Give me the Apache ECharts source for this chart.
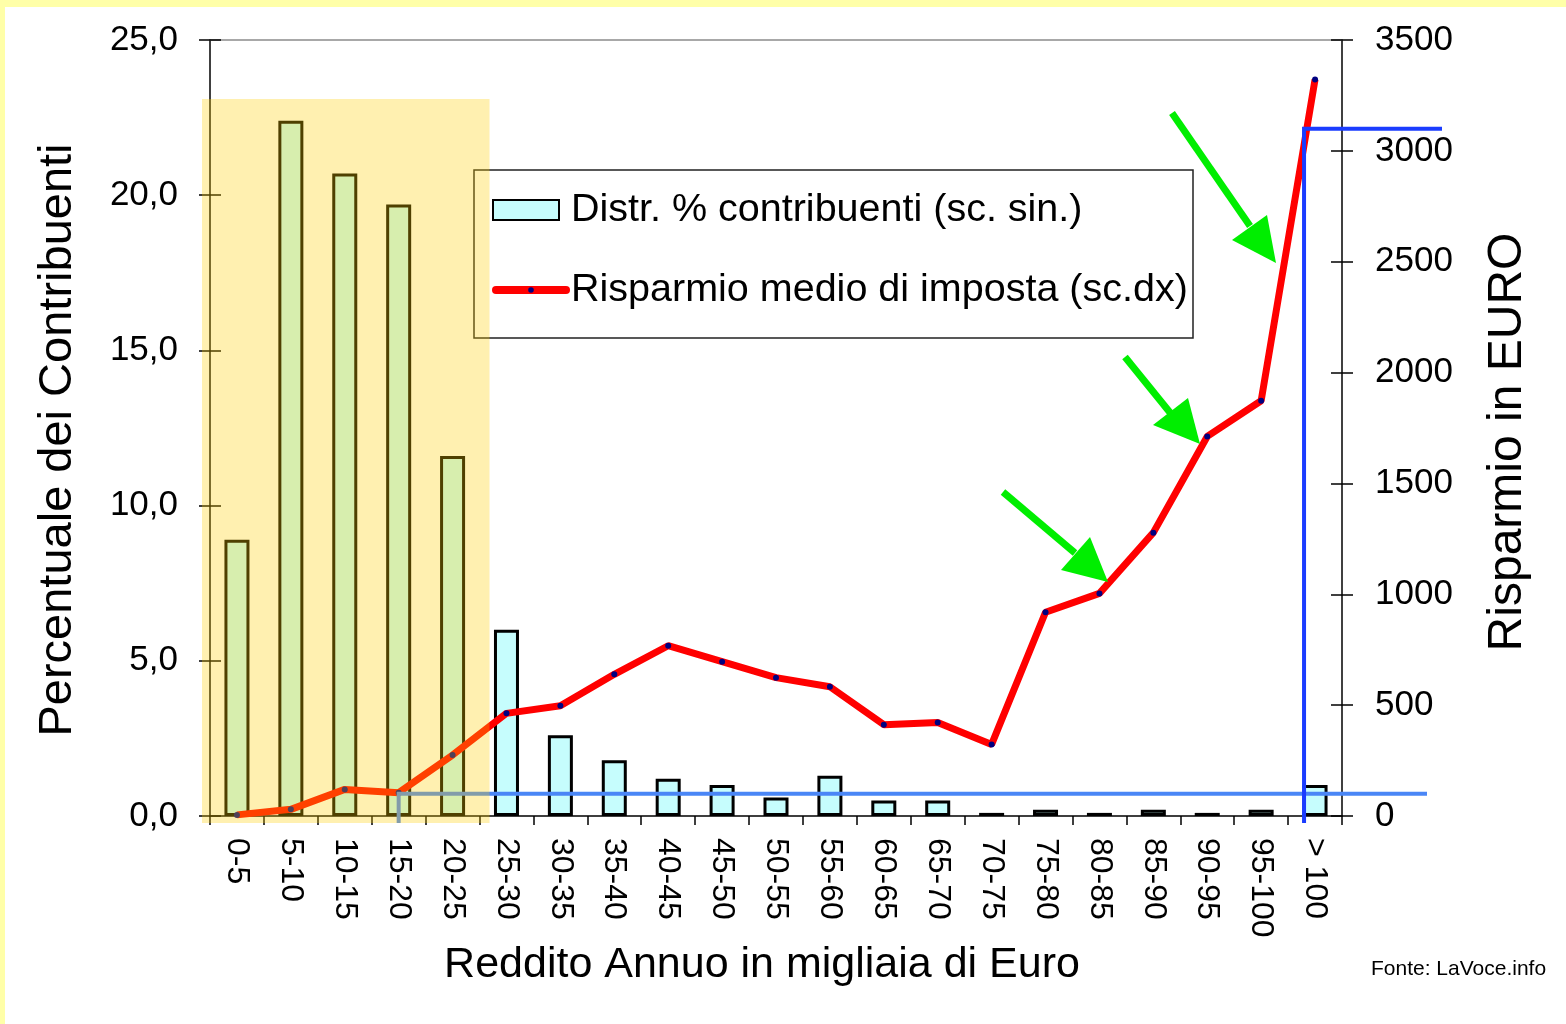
<!DOCTYPE html>
<html>
<head>
<meta charset="utf-8">
<title>Risparmio medio di imposta per classe di reddito</title>
<script src="https://cdn.jsdelivr.net/npm/echarts@6/dist/echarts.min.js"></script>
<style>
  html, body { margin: 0; padding: 0; background: #ffffff; }
  #chart { width: 1566px; height: 1024px; }
</style>
</head>
<body>
<div id="chart"></div>
<script>
// Income classes (thousands of euro)
const incomeClasses = ['0-5', '5-10', '10-15', '15-20', '20-25', '25-30', '30-35', '35-40',
  '40-45', '45-50', '50-55', '55-60', '60-65', '65-70', '70-75', '75-80', '80-85',
  '85-90', '90-95', '95-100', '> 100'];

// Share of taxpayers per class, % (left scale)
const taxpayerShare = [8.9, 22.4, 20.7, 19.7, 11.6, 6.0, 2.6, 1.8, 1.2, 1.0, 0.6, 1.3,
  0.5, 0.5, 0.1, 0.2, 0.1, 0.2, 0.1, 0.2, 1.0];

// Average tax saving per class, euro (right scale)
const averageSaving = [5, 30, 120, 105, 275, 463, 497, 639, 768, 696, 624, 583,
  412, 422, 323, 919, 1004, 1278, 1712, 1873, 3322];

// Axis ticks
const leftTicks = { min: 0, max: 25, interval: 5 };
const rightTicks = { min: 0, max: 3500, interval: 500 };

// Reference levels drawn in blue (euro, right scale)
const lowLevel = 100;
const highLevel = 3100;
// Highlighted low-income band and its top (% on the left scale)
const bandFirst = '0-5';
const bandLast = '20-25';
const bandTop = 23.1;

const barName = 'Distr. % contribuenti (sc. sin.)';
const lineName = 'Risparmio medio di imposta (sc.dx)';

const FONT = '"Liberation Sans", Arial, sans-serif';
const LEGEND_FONT = 39.5;

const chart = echarts.init(document.getElementById('chart'));

const sideAxis = (pos, t, extra) => Object.assign({
  type: 'value', position: pos, min: t.min, max: t.max, interval: t.interval,
  splitLine: { show: false }
}, extra);

const legendText = { fontFamily: FONT, fontSize: LEGEND_FONT, color: '#000' };

const option = {
  backgroundColor: '#ffffff',
  animation: false,
  grid: { left: 210, right: 224, top: 40, bottom: 208 },
  legend: [{
    left: 474, top: 190, padding: [0, 0, 0, 18],
    itemWidth: 66, itemHeight: 20, itemGap: 0,
    textStyle: Object.assign({ padding: [0, 0, 0, 7] }, legendText),
    data: [{ name: barName, icon: 'rect' }]
  }, {
    left: 474, top: 270, padding: [0, 0, 0, 18],
    itemWidth: 70, itemHeight: 7, itemGap: 0,
    lineStyle: { width: 8, color: '#ff0000', cap: 'round' },
    textStyle: legendText,
    data: [lineName]
  }],
  xAxis: [{
    type: 'category', data: incomeClasses, boundaryGap: true,
    axisLine: { lineStyle: { color: '#000', width: 1.5 } },
    axisTick: { show: true, length: 9, lineStyle: { color: '#000', width: 1.5 } },
    axisLabel: { rotate: -90, margin: 22, fontFamily: FONT, fontSize: 32, color: '#000', interval: 0 }
  }, {
    type: 'category', data: incomeClasses, position: 'top',
    axisLine: { onZero: false, lineStyle: { color: '#8c8c8c', width: 1.5 } },
    axisTick: { show: false }, axisLabel: { show: false }
  }],
  yAxis: [
    sideAxis('left', leftTicks, {
      axisLine: { show: true, lineStyle: { color: '#000', width: 1.5 } },
      axisTick: { show: true, length: 11, lineStyle: { color: '#000', width: 1.5 } },
      axisLabel: { margin: 32, fontFamily: FONT, fontSize: 35, color: '#000',
        formatter: v => v.toFixed(1).replace('.', ',') }
    }),
    sideAxis('right', rightTicks, {
      axisLine: { show: true, lineStyle: { color: '#000', width: 1.5 } },
      axisTick: { show: true, length: 11, lineStyle: { color: '#000', width: 1.5 } },
      axisLabel: { margin: 33, fontFamily: FONT, fontSize: 35, color: '#000',
        formatter: v => String(v) }
    }),
    // inner halves of the crossing tick marks
    sideAxis('left', leftTicks, {
      axisLine: { show: false }, axisLabel: { show: false },
      axisTick: { show: true, inside: true, length: 11, lineStyle: { color: '#000', width: 1.5 } }
    }),
    sideAxis('right', rightTicks, {
      axisLine: { show: false }, axisLabel: { show: false },
      axisTick: { show: true, inside: true, length: 11, lineStyle: { color: '#000', width: 1.5 } }
    })
  ],
  series: [{
    name: barName,
    type: 'bar', yAxisIndex: 0, data: taxpayerShare,
    barWidth: 25, z: 3,
    itemStyle: { color: '#c6fdfd', borderColor: '#000', borderWidth: 3 }
  }, {
    name: lineName,
    type: 'line', yAxisIndex: 1, data: averageSaving, z: 5,
    symbol: 'circle', symbolSize: 6, showSymbol: true,
    lineStyle: { color: '#ff0000', width: 7 },
    itemStyle: { color: '#000080' }
  }]
};

chart.setOption(option);

// Annotations placed from the axes' own scales
const at = (cat, val, yIdx) => chart.convertToPixel({ xAxisIndex: 0, yAxisIndex: yIdx }, [cat, val]);
const catStep = at(incomeClasses[1], 0, 0)[0] - at(incomeClasses[0], 0, 0)[0];
const baseY = at(incomeClasses[0], 0, 0)[1];
const plotRight = at(incomeClasses[incomeClasses.length - 1], 0, 0)[0] + catStep / 2;

const bandX0 = at(bandFirst, 0, 0)[0] - catStep / 2 - 8;
const bandX1 = at(bandLast, 0, 0)[0] + catStep / 2 + 10;
const bandY0 = at(bandFirst, bandTop, 0)[1];
const bandY1 = baseY + 7;

const lowY = at(incomeClasses[0], lowLevel, 1)[1];
const highY = at(incomeClasses[0], highLevel, 1)[1];
const lowX = at('15-20', 0, 0)[0];
const highX = at('> 100', 0, 0)[0] - 11;

const green = '#00ee00';
const arrow = (shaft, head) => ([
  { type: 'line', z: 60, shape: { x1: shaft[0], y1: shaft[1], x2: shaft[2], y2: shaft[3] },
    style: { stroke: green, lineWidth: 7 } },
  { type: 'polygon', z: 60, shape: { points: head }, style: { fill: green } }
]);

const graphics = [
  // pale yellow page margins
  { type: 'rect', z: -10, shape: { x: 0, y: 0, width: 1566, height: 7 }, style: { fill: '#ffffa8' } },
  { type: 'rect', z: -10, shape: { x: 0, y: 0, width: 5, height: 1024 }, style: { fill: '#ffffa8' } },
  // legend frame
  { type: 'rect', z: 1, shape: { x: 474, y: 170, width: 719, height: 168 },
    style: { fill: '#ffffff', stroke: '#222', lineWidth: 1.5 } },
  // blue reference levels
  { type: 'polyline', z: 50, shape: { points: [[lowX, bandY1], [lowX, lowY], [plotRight + 85, lowY]] },
    style: { stroke: '#4a86f6', lineWidth: 4, fill: null } },
  { type: 'polyline', z: 50, shape: { points: [[highX, bandY1], [highX, highY], [plotRight + 100, highY]] },
    style: { stroke: '#1a3cff', lineWidth: 4, fill: null } },
  // translucent highlight over the low-income classes
  { type: 'rect', z: 100, silent: true,
    shape: { x: bandX0, y: bandY0, width: bandX1 - bandX0, height: bandY1 - bandY0 },
    style: { fill: 'rgba(255, 206, 0, 0.31)' } },
  // axis titles and source
  { type: 'text', z: 20, x: 58, y: (40 + baseY) / 2 + 12, rotation: Math.PI / 2,
    style: { text: 'Percentuale dei Contribuenti', font: '47px ' + FONT, fill: '#000',
      textAlign: 'center', textVerticalAlign: 'middle' } },
  { type: 'text', z: 20, x: 1508, y: (40 + baseY) / 2 + 14, rotation: Math.PI / 2,
    style: { text: 'Risparmio in EURO', font: '48px ' + FONT, fill: '#000',
      textAlign: 'center', textVerticalAlign: 'middle' } },
  { type: 'text', z: 20, x: 762, y: 965,
    style: { text: 'Reddito Annuo in migliaia di Euro', font: '43px ' + FONT, fill: '#000',
      textAlign: 'center', textVerticalAlign: 'middle' } },
  { type: 'text', z: 20, x: 1371, y: 969,
    style: { text: 'Fonte: LaVoce.info', font: '21px ' + FONT, fill: '#000',
      textAlign: 'left', textVerticalAlign: 'middle' } }
]
  .concat(arrow([1003, 492, 1075, 553], [[1061, 570], [1090, 537], [1108, 582]]))
  .concat(arrow([1125, 357, 1172, 415], [[1153, 425], [1188, 398], [1200, 444]]))
  .concat(arrow([1172, 113, 1250, 226], [[1232, 240], [1267, 215], [1276, 263]]));

chart.setOption({ graphic: graphics });
</script>
</body>
</html>
